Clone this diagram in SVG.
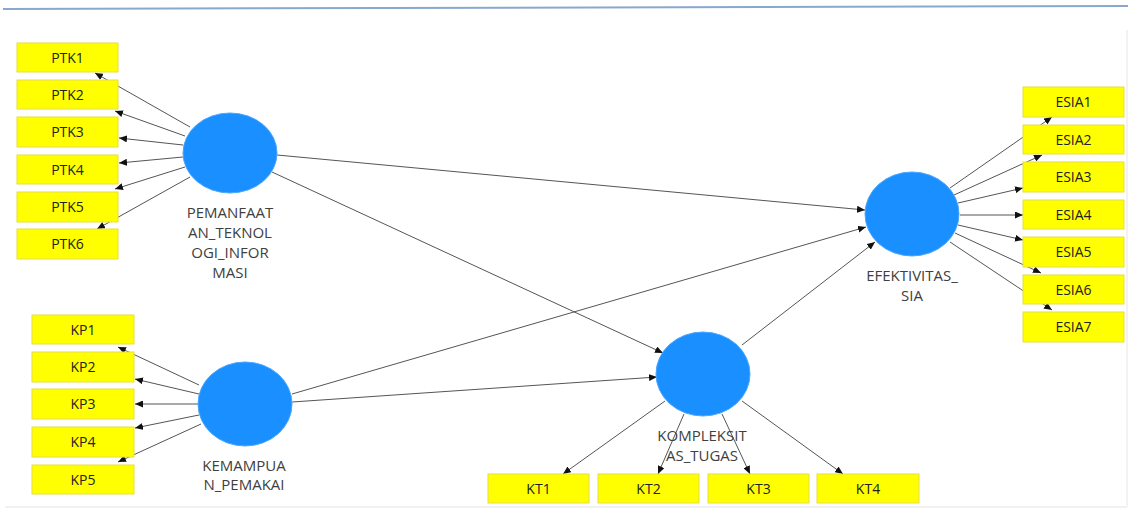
<svg xmlns="http://www.w3.org/2000/svg" width="1131" height="528" viewBox="0 0 1131 528">
<style>
.box rect{fill:#ffff00;stroke:#e6de40;stroke-width:1}
.box text{font-family:"Open Sans","Noto Sans",sans-serif;font-size:14px;fill:#222;text-anchor:middle}
.lv ellipse{fill:#1a8fff;stroke:#4aa6ff;stroke-width:1}
.lv text{font-family:"Open Sans","Noto Sans",sans-serif;font-size:15px;fill:#404040;text-anchor:middle}
#connectors line{stroke:#555;stroke-width:1;marker-end:url(#ah)}
</style>
<defs>
<marker id="ah" markerUnits="userSpaceOnUse" markerWidth="8" markerHeight="7" refX="8" refY="3.5" orient="auto">
<path d="M0,0 L8,3.5 L0,7 z" fill="#111"/>
</marker>
</defs>
<rect x="0" y="0" width="1131" height="528" fill="#fff"/>
<line x1="3" y1="9" x2="1128" y2="6" stroke="#8aa7cf" stroke-width="2"/>
<line x1="1127" y1="30" x2="1127" y2="507" stroke="#e6e6e6" stroke-width="1"/>
<line x1="5" y1="507" x2="1127" y2="507" stroke="#ececec" stroke-width="1.5"/>
<g id="connectors">
<line x1="190" y1="127" x2="95" y2="73"/>
<line x1="185" y1="136" x2="115" y2="111"/>
<line x1="183" y1="145" x2="119" y2="138"/>
<line x1="183" y1="157" x2="119" y2="163"/>
<line x1="185" y1="167" x2="115" y2="189"/>
<line x1="190" y1="177" x2="97" y2="229"/>
<line x1="199" y1="385" x2="118" y2="347"/>
<line x1="199" y1="394" x2="135" y2="379"/>
<line x1="198" y1="404" x2="135" y2="404"/>
<line x1="199" y1="415" x2="135" y2="428"/>
<line x1="201" y1="424" x2="118" y2="462"/>
<line x1="665" y1="401" x2="563" y2="474"/>
<line x1="684" y1="414" x2="658" y2="474"/>
<line x1="722" y1="414" x2="750" y2="474"/>
<line x1="742" y1="401" x2="843" y2="474"/>
<line x1="950" y1="188" x2="1052" y2="117"/>
<line x1="954" y1="195" x2="1042" y2="155"/>
<line x1="958" y1="203" x2="1023" y2="188"/>
<line x1="960" y1="215" x2="1023" y2="215"/>
<line x1="958" y1="225" x2="1023" y2="240"/>
<line x1="955" y1="233" x2="1041" y2="273"/>
<line x1="950" y1="242" x2="1052" y2="310"/>
<line x1="277" y1="155" x2="865" y2="210"/>
<line x1="292" y1="394" x2="866" y2="227"/>
<line x1="742" y1="345" x2="875" y2="242"/>
<line x1="272" y1="172" x2="663" y2="353"/>
<line x1="292" y1="402" x2="657" y2="377"/>
</g>
<g id="PTK1" class="box"><rect x="17" y="43" width="101" height="29"/><text x="67.5" y="62.5">PTK1</text></g>
<g id="PTK2" class="box"><rect x="17" y="80" width="101" height="29"/><text x="67.5" y="99.5">PTK2</text></g>
<g id="PTK3" class="box"><rect x="17" y="117" width="101" height="30"/><text x="67.5" y="137">PTK3</text></g>
<g id="PTK4" class="box"><rect x="17" y="155" width="101" height="29"/><text x="67.5" y="174.5">PTK4</text></g>
<g id="PTK5" class="box"><rect x="17" y="192" width="101" height="30"/><text x="67.5" y="212">PTK5</text></g>
<g id="PTK6" class="box"><rect x="17" y="229" width="101" height="30"/><text x="67.5" y="249">PTK6</text></g>
<g id="KP1" class="box"><rect x="32" y="315" width="102" height="29"/><text x="83" y="334.5">KP1</text></g>
<g id="KP2" class="box"><rect x="32" y="352" width="102" height="30"/><text x="83" y="372">KP2</text></g>
<g id="KP3" class="box"><rect x="32" y="389" width="102" height="30"/><text x="83" y="409">KP3</text></g>
<g id="KP4" class="box"><rect x="32" y="427" width="102" height="30"/><text x="83" y="447">KP4</text></g>
<g id="KP5" class="box"><rect x="32" y="465" width="102" height="29"/><text x="83" y="484.5">KP5</text></g>
<g id="KT1" class="box"><rect x="488" y="474" width="101" height="29"/><text x="538.5" y="493.5">KT1</text></g>
<g id="KT2" class="box"><rect x="598" y="474" width="101" height="29"/><text x="648.5" y="493.5">KT2</text></g>
<g id="KT3" class="box"><rect x="708" y="474" width="101" height="29"/><text x="758.5" y="493.5">KT3</text></g>
<g id="KT4" class="box"><rect x="817" y="474" width="102" height="29"/><text x="868" y="493.5">KT4</text></g>
<g id="ESIA1" class="box"><rect x="1023" y="87" width="101" height="30"/><text x="1073.5" y="107">ESIA1</text></g>
<g id="ESIA2" class="box"><rect x="1023" y="125" width="101" height="29"/><text x="1073.5" y="144.5">ESIA2</text></g>
<g id="ESIA3" class="box"><rect x="1023" y="162" width="101" height="30"/><text x="1073.5" y="182">ESIA3</text></g>
<g id="ESIA4" class="box"><rect x="1023" y="200" width="101" height="29"/><text x="1073.5" y="219.5">ESIA4</text></g>
<g id="ESIA5" class="box"><rect x="1023" y="237" width="101" height="30"/><text x="1073.5" y="257">ESIA5</text></g>
<g id="ESIA6" class="box"><rect x="1023" y="275" width="101" height="29"/><text x="1073.5" y="294.5">ESIA6</text></g>
<g id="ESIA7" class="box"><rect x="1023" y="312" width="101" height="30"/><text x="1073.5" y="332">ESIA7</text></g>
<g id="PEMANFAATAN_TEKNOLOGI_INFORMASI" class="lv"><ellipse cx="230" cy="153" rx="47" ry="40"/>
<text x="230" y="218">PEMANFAAT</text><text x="230" y="238">AN_TEKNOL</text><text x="230" y="258">OGI_INFOR</text><text x="230" y="278">MASI</text></g>
<g id="KEMAMPUAN_PEMAKAI" class="lv"><ellipse cx="245" cy="404" rx="47" ry="42"/>
<text x="244" y="471">KEMAMPUA</text><text x="244" y="490">N_PEMAKAI</text></g>
<g id="KOMPLEKSITAS_TUGAS" class="lv"><ellipse cx="703" cy="374" rx="47" ry="42"/>
<text x="702" y="441">KOMPLEKSIT</text><text x="702" y="461">AS_TUGAS</text></g>
<g id="EFEKTIVITAS_SIA" class="lv"><ellipse cx="912" cy="214" rx="47" ry="42"/>
<text x="912" y="281">EFEKTIVITAS_</text><text x="912" y="301">SIA</text></g>
</svg>
